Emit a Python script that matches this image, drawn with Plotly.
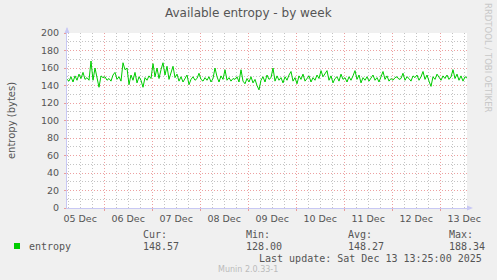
import pandas as pd
import plotly.graph_objects as go

# ---------------- data ----------------
start_time = "2025-12-05 05:25"
entropy = [
    147, 145, 150, 144, 151, 146, 153, 148, 155, 147, 149, 146, 168, 146, 160, 150,
    138, 151, 149, 150, 146, 148, 145, 152, 155, 147, 150, 145, 166, 158, 160, 141,
    152, 146, 155, 143, 150, 146, 138, 149, 146, 151, 148, 165, 150, 160, 148, 158,
    166, 152, 162, 147, 155, 162, 149, 153, 145, 150, 144, 148, 152, 141, 147, 150,
    146, 148, 154, 147, 145, 149, 146, 150, 144, 148, 160, 150, 144, 151, 147, 158,
    146, 149, 145, 148, 147, 150, 144, 158, 145, 142, 148, 144, 150, 143, 147, 140,
    135, 146, 150, 144, 152, 147, 149, 160, 145, 151, 146, 149, 143, 150, 146, 152,
    156, 145, 149, 142, 151, 147, 153, 145, 148, 151, 144, 149, 146, 152, 148, 157,
    150, 154, 157, 146, 151, 143, 148, 150, 145, 153, 147, 149, 144, 150, 146, 151,
    157, 147, 152, 143, 149, 146, 150, 145, 148, 152, 146, 149, 144, 150, 156, 147,
    151, 145, 148, 146, 149, 150, 147, 148, 154, 146, 150, 148, 145, 151, 149, 152,
    146, 150, 156, 147, 152, 145, 139, 150, 147, 153, 149, 146, 151, 148, 152, 147,
    150, 158, 148, 153, 146, 151, 145, 150, 148.57,
]
times = pd.date_range(start=start_time, periods=len(entropy), freq="h")

title_text = "Available entropy - by week"
y_title = "entropy (bytes)"
series_name = "entropy"
stat_labels = ["Cur:", "Min:", "Avg:", "Max:"]
stat_values = ["148.57", "128.00", "148.27", "188.34"]
last_update = "Last update: Sat Dec 13 13:25:00 2025"
munin_version = "Munin 2.0.33-1"
watermark = "RRDTOOL / TOBI OETIKER"

# ---------------- style ----------------
W, H = 497, 280
L, R, T, B = 67, 30, 33, 72
BG = "#f0f0f0"
TXT = "#555555"
GREEN = "#00cc00"
MAJ = "rgba(230,120,120,0.7)"
MIN = "rgba(190,190,190,0.9)"
AXIS = "#c8c8f4"
SANS = "DejaVu Sans"
MONO = "DejaVu Sans Mono"

pw, ph = W - L - R, H - T - B


def px_x(p):
    return (p - L) / pw


def px_y(p):
    return (H - B - p) / ph


fig = go.Figure()
fig.add_trace(go.Scatter(x=times, y=entropy, mode="lines",
                         line=dict(color=GREEN, width=1), name=series_name,
                         showlegend=False))

fig.update_layout(
    width=W, height=H,
    margin=dict(l=L, r=R, t=T, b=B),
    paper_bgcolor=BG, plot_bgcolor="white",
    font=dict(family=SANS, size=9.5, color=TXT),
    showlegend=False,
)

fig.update_xaxes(
    type="date", range=[times[0], times[-1]],
    tick0="2025-12-05", dtick=86400000, ticklabelmode="period",
    tickformat="%d %b",
    showgrid=True, gridcolor=MAJ, griddash="1px,2px", gridwidth=1,
    ticks="outside", ticklen=2, tickcolor=MAJ, tickwidth=1,
    minor=dict(dtick=6 * 3600 * 1000, showgrid=True, gridcolor=MIN,
               griddash="1px,2px", gridwidth=1, ticks=""),
    showline=True, linecolor=AXIS, linewidth=1,
    zeroline=False, tickfont=dict(size=9.5, color=TXT),
    ticklabelstandoff=0,
)
fig.update_yaxes(
    range=[0, 200], dtick=20, tick0=0,
    showgrid=True, gridcolor=MAJ, griddash="1px,2px", gridwidth=1,
    ticks="outside", ticklen=2, tickcolor=MAJ,
    minor=dict(dtick=10, showgrid=True, gridcolor=MIN, griddash="1px,2px",
               gridwidth=1, ticks=""),
    showline=True, linecolor=AXIS, linewidth=1,
    zeroline=False, tickfont=dict(size=9.5, color=TXT),
    ticklabelstandoff=3,
    title=dict(text=y_title, font=dict(size=10, color=TXT), standoff=23),
)

# axis arrows (decoration)
fig.add_shape(type="path", xref="paper", yref="paper",
              path=f"M {px_x(64.5)} {px_y(33)} L {px_x(69.5)} {px_y(33)} L {px_x(67)} {px_y(27)} Z",
              fillcolor=AXIS, line=dict(color=AXIS, width=0))
fig.add_shape(type="line", xref="paper", yref="paper",
              x0=0, x1=0, y0=1, y1=px_y(28), line=dict(color=AXIS, width=1))
fig.add_shape(type="path", xref="paper", yref="paper",
              path=f"M {px_x(467)} {px_y(205.5)} L {px_x(467)} {px_y(210.5)} L {px_x(473)} {px_y(208)} Z",
              fillcolor=AXIS, line=dict(color=AXIS, width=0))


def page(xp, yp, text, anchor="left", font=MONO, size=10, color=TXT, angle=0):
    return dict(text=text, x=px_x(xp), y=px_y(yp), xref="paper", yref="paper",
                xanchor=anchor, yanchor="middle", showarrow=False, textangle=angle,
                font=dict(family=font, size=size, color=color))


ann = []
ann.append(page(W / 2, 13, title_text, anchor="center", font=SANS, size=12))
ann.append(page(488, 58, watermark, anchor="center", font=SANS, size=8.5,
                color="#c8c8c8", angle=90))
ann.append(page(27, 246, series_name))
stat_x = [141, 244, 346, 447]
for sx, lab, val in zip(stat_x, stat_labels, stat_values):
    ann.append(page(sx, 234, lab))
    ann.append(page(sx, 246, val))
ann.append(page(484, 258, last_update, anchor="right"))
ann.append(page(248, 269, munin_version, anchor="center", font=SANS,
                size=8, color="#bbbbbb"))
fig.update_layout(annotations=ann)

# legend swatch
fig.add_shape(type="rect", xref="paper", yref="paper",
              x0=px_x(14), x1=px_x(20), y0=px_y(243), y1=px_y(249),
              fillcolor=GREEN, line=dict(width=0))

fig.write_html("out.html")
